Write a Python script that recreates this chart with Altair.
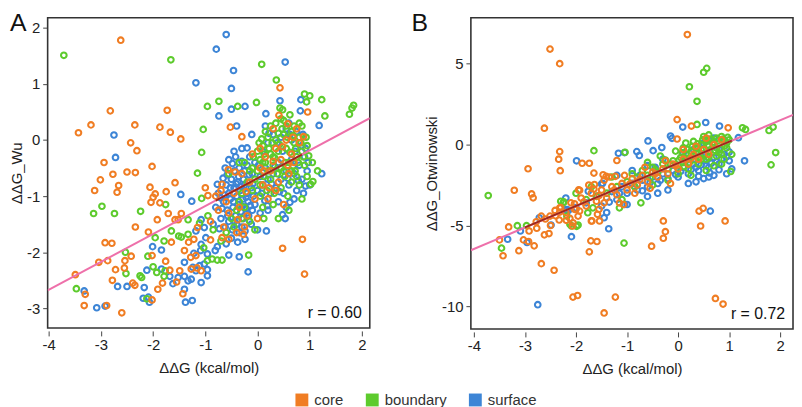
import altair as alt
import pandas as pd

# ---------------- Panel A : ddG vs ddG_Wu ----------------
A_CORE = [
    (-2.62, 1.78), (-2.82, 0.52), (-1.73, 0.53), (-3.19, 0.27), (-2.35, 0.27), (-3.43, 0.13),
    (-1.87, 0.23), (-1.67, 0.14), (-1.47, 0.02), (-2.43, -0.05), (-2.31, -0.19), (-2.94, -0.40),
    (-2.02, -0.47), (-2.50, -0.57), (-2.34, -0.58), (-2.77, -0.61), (0.43, 0.93), (0.96, 0.50),
    (0.41, 0.44), (-0.52, 0.23), (-0.30, 0.06), (-0.56, -0.53), (-0.43, -0.57), (0.88, 0.06),
    (0.58, 0.29), (-0.68, -0.79), (-0.95, -0.99),
    (-3.01, -0.71), (-3.12, -0.90), (-2.66, -0.81), (-2.69, -0.93), (-2.06, -0.84), (-1.58, -0.76),
    (-1.96, -0.96), (-2.00, -1.02), (-1.75, -0.92), (-2.04, -1.11), (-1.87, -1.12), (-1.92, -1.42),
    (-1.71, -1.31), (-1.58, -1.42), (-1.52, -1.42), (-1.46, -1.31), (-2.34, -1.55), (-2.09, -1.64),
    (-2.92, -1.83), (-2.79, -1.84), (-1.65, -1.82), (-2.42, -2.07), (-2.54, -2.15), (-3.04, -2.18),
    (-2.87, -2.15), (-2.02, -2.06), (-3.49, -2.40), (-2.72, -2.31), (-2.55, -2.28), (-2.78, -2.50),
    (-1.76, -2.16), (-1.68, -2.32), (-1.49, -2.33), (-2.39, -2.55), (-2.35, -2.59), (-1.91, -2.66),
    (-1.82, -2.55), (-3.32, -2.95), (-2.89, -2.95), (-2.60, -3.08), (-2.02, -2.85), (-1.43, -2.74),
    (-1.32, -1.82), (-1.22, -1.77), (-1.28, -2.09), (-1.18, -2.06), (-1.27, -2.30), (-1.16, -2.28),
    (-1.55, -2.53), (-1.15, -1.56), (-1.40, -1.97), (-1.08, -2.33), (-3.30, -2.75),
    (0.86, -1.77), (0.48, -1.93), (0.90, -2.39), (-0.90, -1.78), (-0.68, -1.74), (-0.55, -1.77),
    (-0.27, -1.68),
    (-0.80, -1.00), (-0.70, -0.90), (-0.60, -1.10), (-0.55, -1.30), (-0.45, -0.95), (-0.35, -1.20),
    (-0.25, -1.55), (-0.15, -0.75), (-0.05, -1.05), (0.05, -0.50), (0.15, -0.30), (0.25, -0.55),
    (0.35, -0.15), (0.45, -0.35), (0.55, 0.00), (0.65, -0.25), (0.75, 0.20), (0.30, 0.20),
    (0.10, -0.80), (0.40, -0.75), (-0.20, -1.35), (-0.10, -0.25), (0.20, -1.05), (-0.65, -1.55),
    (-0.40, -1.65), (0.60, -0.60), (0.80, -0.05), (0.00, -1.40), (-0.90, -1.45), (-0.75, -1.25),
    (-1.00, -0.85), (0.50, -1.15), (0.35, -0.90), (-0.30, -0.60),
    (0.12, -0.55), (0.30, -0.38), (0.48, -0.12), (0.68, 0.05), (-0.22, -0.92), (-0.38, -1.42),
    (0.05, -0.15), (0.58, -0.45), (0.70, -0.40), (0.22, -0.85),
]
A_BOUNDARY = [
    (-3.71, 1.51), (-1.66, 1.43), (-0.96, 0.60), (-1.04, 0.19), (-1.07, -0.22), (-1.15, -0.59),
    (0.08, 1.35), (0.36, 1.07), (-0.74, 0.69), (-0.38, 0.60), (-0.02, 0.67), (0.43, 0.57),
    (0.48, 0.54), (0.90, 0.82), (1.00, 0.79), (0.94, 0.68), (1.23, 0.72), (1.29, 0.43),
    (1.84, 0.62), (1.81, 0.57), (1.76, 0.46), (1.02, -0.79), (1.06, -0.74), (0.12, -1.40),
    (-0.17, -2.05), (-0.87, -2.12), (-0.77, -2.14), (-0.68, -2.14), (1.15, -0.55),
    (-2.98, -1.18), (-3.14, -1.31), (-2.74, -1.31), (-2.24, -1.27), (-1.76, -1.15), (-1.07, -1.04),
    (-1.65, -1.62), (-1.96, -1.74), (-1.79, -1.80), (-2.53, -2.00), (-2.10, -2.07), (-2.52, -2.38),
    (-2.00, -2.26), (-1.79, -2.43), (-2.25, -2.42), (-2.22, -2.45), (-3.47, -2.65), (-2.12, -2.83),
    (-1.51, -1.71), (-1.46, -1.73), (-1.33, -1.68), (-1.77, -2.33), (-1.93, -2.36), (-1.33, -1.42),
    (-1.11, -1.48), (-1.03, -1.92), (-0.96, -2.15),
    (0.00, -0.20), (0.05, -0.35), (0.10, -0.10), (0.15, -0.40), (0.20, 0.05), (0.25, -0.25),
    (0.30, -0.45), (0.35, 0.00), (0.40, -0.20), (0.45, -0.50), (0.50, 0.10), (0.55, -0.15),
    (0.60, -0.40), (0.65, 0.15), (0.70, -0.05), (0.75, -0.30), (0.80, 0.05), (0.85, -0.20),
    (0.90, -0.45), (0.95, -0.10), (-0.10, -0.50), (-0.05, -0.70), (0.00, -0.55), (0.05, -0.80),
    (0.12, -0.65), (0.18, -0.90), (0.25, -0.70), (0.32, -0.95), (0.38, -0.60), (0.45, -0.85),
    (0.52, -0.65), (0.58, -1.00), (0.65, -0.75), (0.72, -0.55), (0.80, -0.80), (-0.20, -0.75),
    (-0.30, -0.95), (-0.40, -1.25), (-0.50, -1.40), (-0.60, -1.65), (-0.70, -1.80), (-0.25, -1.20),
    (-0.15, -1.45), (-0.05, -1.60), (0.10, -1.20), (0.25, 0.25), (0.35, 0.30), (0.50, 0.35),
    (0.15, 0.15), (0.70, 0.25), (0.95, -0.65), (1.05, -0.40), (0.40, -1.40), (-0.85, -1.60),
    (-0.95, -1.35), (-0.55, -0.60), (0.30, -1.15), (0.60, -1.25), (0.85, -1.05), (-0.35, -0.40),
    (0.03, -0.05), (0.08, 0.02), (0.13, -0.25), (0.22, -0.15), (0.28, -0.05), (0.33, -0.32),
    (0.42, -0.08), (0.47, 0.20), (0.53, -0.40), (0.57, 0.05), (0.62, -0.22), (0.68, 0.08),
    (0.73, -0.15), (0.78, -0.40), (0.83, -0.05), (0.88, -0.30), (0.93, 0.05), (0.98, -0.28),
    (0.40, 0.12), (0.20, -0.55), (0.30, -0.30), (0.50, -0.55), (0.65, -0.55), (0.75, -0.65),
    (0.10, -0.40), (-0.08, -0.30), (-0.15, -0.55), (-0.25, -0.40), (0.55, 0.25), (0.80, 0.30),
    (0.45, 0.38), (0.62, 0.45), (0.85, 0.25), (0.05, -1.00), (-0.10, -0.90), (-0.35, -1.10),
    (-0.45, -1.55), (-0.30, -1.40),
]
A_SURFACE = [
    (-1.18, 1.02), (-2.75, 0.09), (-2.72, -0.31), (-0.60, 1.88), (-0.79, 1.62), (0.53, 1.39),
    (-0.46, 1.24), (-0.50, 0.92), (-0.24, 0.60), (-0.50, 0.55), (0.43, 0.70), (0.83, 0.72),
    (0.82, 0.52), (0.16, 0.47), (-0.74, 0.43), (1.18, 0.26), (-0.40, 0.25), (-0.11, 0.10),
    (-0.20, -0.14), (1.23, -0.60), (-0.18, -2.35), (0.00, -1.60), (0.17, -1.62), (0.48, -1.33),
    (0.53, -1.40), (0.19, -1.17), (0.62, -1.11), (-0.35, -2.08), (-0.55, -2.05), (-0.81, -1.97),
    (-0.77, -1.90), (-0.96, -2.31), (-0.24, -1.77), (-0.77, -0.79), (-0.71, -1.03),
    (-1.47, -0.97), (-1.26, -1.09), (-2.01, -1.90), (-1.84, -1.96), (-2.12, -2.32), (-1.84, -2.30),
    (-1.68, -2.43), (-2.68, -2.61), (-2.50, -2.61), (-2.17, -2.63), (-3.32, -2.69), (-3.08, -2.99),
    (-2.92, -2.96), (-2.19, -2.82), (-2.09, -2.80), (-2.07, -2.89), (-1.40, -2.66), (-1.38, -2.89),
    (-1.25, -2.86), (-1.22, -2.02), (-1.09, -1.97), (-1.40, -2.18), (-1.24, -2.27), (-1.11, -2.24),
    (-1.52, -2.45), (-1.40, -2.43), (-1.27, -2.48), (-1.62, -2.56), (-1.08, -1.42), (-1.02, -1.56),
    (-1.18, -1.62), (-0.99, -1.74), (-1.08, -1.86), (-0.96, -2.03), (-1.02, -2.21), (-1.18, -2.33),
    (-0.96, -2.42), (-1.33, -2.51), (-1.08, -2.54),
    (-0.55, -0.35), (-0.48, -0.42), (-0.42, -0.30), (-0.35, -0.50), (-0.30, -0.38), (-0.25, -0.55),
    (-0.20, -0.45), (-0.15, -0.30), (-0.10, -0.60), (-0.05, -0.40), (-0.60, -0.80), (-0.55, -0.95),
    (-0.50, -0.70), (-0.45, -0.85), (-0.40, -1.00), (-0.38, -0.75), (-0.33, -0.90), (-0.28, -1.05),
    (-0.25, -0.80), (-0.20, -0.95), (-0.18, -1.10), (-0.12, -0.85), (-0.08, -1.00), (-0.05, -1.15),
    (0.00, -0.90), (-0.65, -1.10), (-0.58, -1.25), (-0.52, -1.05), (-0.47, -1.20), (-0.42, -1.35),
    (-0.37, -1.15), (-0.32, -1.28), (-0.27, -1.40), (-0.22, -1.22), (-0.17, -1.35), (-0.12, -1.50),
    (-0.70, -1.40), (-0.62, -1.55), (-0.55, -1.45), (-0.48, -1.60), (-0.40, -1.50), (-0.35, -1.65),
    (-0.75, -0.95), (-0.80, -1.20), (-0.85, -1.50), (0.05, -0.65), (0.10, -0.80), (0.15, -0.50),
    (0.20, -0.70), (0.25, -0.95), (0.30, -0.60), (0.35, -0.85), (0.40, -0.40), (0.45, -0.70),
    (0.50, -0.95), (0.55, -0.55), (0.60, -0.80), (0.65, -0.35), (0.70, -0.60), (0.75, -0.90),
    (0.80, -0.45), (0.85, -0.70), (0.90, -0.30), (0.95, -0.55), (0.10, -0.20), (0.20, -0.05),
    (0.30, 0.10), (0.45, 0.05), (0.55, 0.20), (0.65, 0.00), (0.75, 0.15), (0.85, -0.10),
    (0.15, 0.25), (0.60, 0.30), (0.40, -1.10), (0.55, -1.20), (0.70, -1.05), (0.20, -1.25),
    (-0.30, -0.15), (-0.45, -0.20), (0.88, -0.95), (1.00, -0.80), (0.05, -1.30), (-0.10, -1.25),
    (-0.62, -0.50), (-0.58, -0.62), (-0.44, -0.55), (-0.36, -0.65), (-0.27, -0.70), (-0.16, -0.62),
    (-0.09, -0.78), (-0.66, -0.68), (-0.52, -0.85), (-0.41, -0.78), (-0.31, -0.83), (-0.22, -1.02),
    (-0.14, -1.17), (-0.63, -0.98), (-0.46, -1.10), (-0.29, -1.18), (-0.20, -1.30), (-0.57, -1.35),
    (-0.44, -1.45), (-0.30, -1.55), (-0.24, -1.62), (-0.68, -1.22), (-0.73, -1.58), (-0.50, -1.75),
    (-0.60, -1.85), (-0.38, -1.82), (0.02, -0.45), (0.08, -0.95), (0.14, -1.08), (0.27, -0.78),
    (0.33, -0.48), (0.42, -0.92), (0.58, -0.68), (0.68, -0.47), (0.78, -0.72), (0.92, -0.82),
    (0.97, -0.40), (0.38, -0.05), (0.22, 0.12), (0.48, -0.20), (0.62, 0.10), (0.72, -0.20),
    (0.87, 0.10), (0.92, -0.15),
]
A_FIT_X = [-4.02, 2.15]
A_FIT_Y = [-2.68, 0.39]
A_DARK_X = [-0.80, 0.85]
A_DARK_Y = [-1.08, -0.26]

# ---------------- Panel B : ddG vs ddG_Otwinowski ----------------
B_CORE = [
    (-2.51, 5.91), (-2.32, 5.01), (0.18, 6.81), (-2.62, 1.02), (-0.02, 1.55), (0.26, 1.15),
    (0.98, 1.04), (-1.88, -1.15), (-1.74, -1.15), (-2.32, -0.43), (-2.31, -1.61), (-2.94, -1.49),
    (-3.21, -2.82), (-2.87, -3.05), (-2.84, -3.29), (-0.02, 0.35), (-1.20, -0.98), (-1.65, -1.76),
    (-1.47, -1.86), (-1.23, -1.96), (-2.34, -0.90), (-1.41, -1.96), (-1.64, -2.47), (-1.93, -2.82),
    (-2.32, -3.91), (-2.41, -4.07), (-2.03, -3.66), (-2.03, -4.00), (-1.93, -4.11), (-1.96, -4.42),
    (-2.12, -4.56), (-2.19, -4.68), (-2.06, -4.83), (-1.69, -4.72), (-1.54, -4.72), (-1.58, -4.31),
    (-1.59, -5.99), (-1.74, -6.63), (-2.43, -7.77), (-2.68, -7.36), (-2.06, -9.43), (-1.97, -9.33),
    (-1.23, -9.43), (-1.45, -10.41), (-3.12, -6.56), (-3.43, -6.87), (-3.50, -5.89), (-3.32, -5.09),
    (-2.92, -5.34), (-3.03, -5.89), (-2.93, -5.99), (-2.82, -6.26), (-2.62, -5.58), (-2.53, -5.50),
    (-2.78, -4.77), (-2.77, -5.17), (-2.68, -4.42), (-2.51, -4.42), (-2.32, -4.17), (-2.33, -4.66),
    (-2.07, -5.03), (-1.71, -5.95), (-1.70, -4.72), (-0.29, -4.72), (-0.25, -5.38), (-0.29, -5.79),
    (-0.52, -6.28), (0.41, -4.11), (0.49, -3.94), (0.44, -5.03), (0.92, -4.72), (0.73, -9.51),
    (0.88, -9.86), (-1.07, -3.70),
    (-2.20, -4.20), (-2.10, -3.60), (-2.00, -4.00), (-1.90, -3.30), (-1.80, -3.80), (-1.70, -3.00),
    (-1.60, -3.50), (-1.50, -2.80), (-1.40, -3.30), (-1.30, -2.60), (-1.20, -3.10), (-1.10, -2.40),
    (-1.00, -2.80), (-0.90, -2.10), (-0.80, -2.50), (-0.70, -1.90), (-0.60, -2.30), (-0.50, -1.70),
    (-0.40, -2.00), (-0.30, -1.50), (-0.20, -1.80), (-0.10, -1.20), (0.00, -1.50), (0.10, -0.90),
    (0.20, -1.20), (0.30, -0.60), (0.40, -0.90), (0.50, -0.30), (0.60, -0.60), (0.70, 0.00),
    (-1.75, -2.50), (-1.45, -2.20), (-1.15, -3.60), (-0.85, -3.00), (-0.55, -2.70), (-1.95, -2.80),
    (-2.40, -4.40), (-2.60, -4.60), (-2.30, -3.90), (-1.55, -4.00), (0.35, -0.10), (0.85, 0.30),
    (-0.25, -1.00), (-0.65, -1.40), (-1.35, -2.00), (0.10, -0.30), (-1.05, -1.90), (-0.15, -2.40),
    (0.55, 0.40), (-2.50, -5.00),
    (-0.75, -2.15), (-0.95, -2.45), (-1.25, -2.80), (-1.55, -3.15), (-1.85, -3.55), (-0.45, -1.80),
    (-0.05, -1.30), (0.25, -0.85), (-1.65, -2.75), (-1.45, -3.60),
]
B_BOUNDARY = [
    (0.56, 4.72), (0.50, 4.48), (0.22, 3.58), (0.37, 2.68), (0.37, 1.25), (1.26, 1.04),
    (1.32, 0.94), (1.78, 0.88), (1.86, 1.09), (1.91, -0.49), (1.82, -1.25), (1.03, -1.66),
    (-1.65, -0.37), (-3.72, -3.15), (-1.04, -0.47), (-2.24, -3.54), (-2.09, -5.03), (-1.96, -4.97),
    (-1.67, -3.91), (-1.77, -4.21), (-1.06, -6.09), (-3.46, -6.40), (-3.15, -5.01), (-2.97, -5.01),
    (-2.25, -3.59), (-2.18, -4.42), (-1.99, -5.05), (-2.12, -4.93), (-1.15, -3.91), (-0.73, -3.60),
    (-1.00, -2.30), (-0.90, -1.80), (-0.80, -2.00), (-0.70, -1.60), (-0.60, -1.90), (-0.50, -1.40),
    (-0.40, -1.70), (-0.30, -1.20), (-0.20, -1.50), (-0.10, -1.00), (0.00, -1.30), (0.05, -0.80),
    (0.10, -1.10), (0.15, -0.60), (0.20, -0.90), (0.25, -0.40), (0.30, -0.70), (0.35, -0.20),
    (0.40, -0.50), (0.45, 0.00), (0.50, -0.30), (0.55, 0.20), (0.60, -0.10), (0.65, 0.30),
    (0.70, 0.00), (0.75, 0.40), (0.80, 0.10), (0.85, 0.50), (0.90, 0.20), (0.95, -0.20),
    (1.00, 0.30), (0.30, 0.20), (0.50, 0.50), (0.10, -0.20), (0.60, 0.60), (0.20, -1.50),
    (0.40, -1.20), (0.60, -0.80), (0.80, -0.50), (0.00, -1.80), (-0.20, -2.20), (-1.20, -2.60),
    (-1.40, -3.00), (-1.60, -3.20), (-1.80, -3.40), (-1.10, -3.40), (0.70, -1.30), (0.90, -0.90),
    (-0.60, -1.10), (-0.35, -0.70), (0.15, 0.10), (0.75, -0.20), (0.45, -0.90), (-0.05, -0.40),
    (0.85, -1.20), (1.05, -0.60), (-1.30, -2.00), (-0.85, -2.60), (0.55, -1.60), (0.25, -1.90),
    (-0.50, -2.50), (-2.00, -3.00), (-2.30, -3.50), (-1.70, -2.60),
    (0.02, -0.95), (0.08, -0.50), (0.12, -1.35), (0.18, -0.30), (0.22, -1.10), (0.28, -0.10),
    (0.32, -0.95), (0.38, 0.05), (0.42, -0.75), (0.48, 0.30), (0.52, -0.55), (0.58, 0.00),
    (0.62, -0.40), (0.68, 0.15), (0.72, -0.35), (0.78, 0.25), (0.82, -0.25), (0.88, 0.35),
    (0.92, -0.05), (0.97, 0.45), (0.62, 0.35), (0.45, -0.30), (0.35, -0.55), (0.55, -0.90),
    (0.75, -0.70), (0.15, -0.85), (-0.15, -1.20), (-0.25, -0.95), (-0.45, -1.55), (-0.55, -2.05),
    (0.85, -0.60), (0.95, 0.10),
]
B_SURFACE = [
    (0.54, 1.37), (0.09, 1.09), (0.81, 1.15), (1.30, -1.00), (1.18, 0.43), (-1.99, -1.00),
    (-1.17, -0.53), (-0.81, -0.43), (-0.76, -0.67), (-0.59, 0.23), (-0.49, -0.37), (-0.15, 0.53),
    (-0.12, 0.39), (-1.50, -2.43), (-1.05, -0.49), (-0.32, -0.18), (-1.76, -2.88), (-1.48, -2.39),
    (-2.18, -4.01), (-2.09, -5.69), (-1.45, -4.52), (-1.36, -5.20), (-2.75, -9.90), (-3.34, -5.85),
    (-3.09, -5.34), (-2.72, -4.52), (-2.49, -4.97), (-2.21, -4.03), (0.63, -4.11), (-2.96, -6.05),
    (-2.15, -4.07), (-1.05, -3.70),
    (-1.80, -3.60), (-1.60, -3.20), (-1.50, -3.80), (-1.30, -2.90), (-1.20, -3.40), (-1.10, -2.60),
    (-1.00, -3.00), (-0.90, -2.40), (-0.80, -2.80), (-0.70, -2.20), (-0.60, -2.60), (-0.50, -2.00),
    (-0.40, -2.40), (-0.30, -1.80), (-0.20, -2.10), (-0.10, -1.60), (0.00, -2.00), (0.10, -1.40),
    (0.20, -1.80), (0.30, -1.20), (0.40, -1.60), (0.50, -1.00), (0.60, -1.40), (0.70, -0.80),
    (0.80, -1.20), (0.90, -0.60), (1.00, -1.00), (0.50, -2.10), (0.60, -2.00), (0.70, -1.90),
    (0.20, -2.40), (-0.20, -2.80), (-0.60, -3.20), (-1.00, -3.70), (0.30, -0.30), (0.50, 0.10),
    (0.70, 0.40), (0.90, 0.30), (0.10, -0.50), (-0.30, -0.90), (-0.60, -1.30), (-0.90, -1.60),
    (-1.20, -1.90), (1.05, -1.50), (0.95, -1.80), (0.35, -2.30), (-0.40, -3.00), (-2.00, -3.90),
    (-2.20, -3.30), (-1.40, -4.20), (0.80, -0.30), (0.15, -1.00), (-0.45, -1.40), (-0.75, -1.90),
    (0.45, -0.60),
    (-0.05, -1.85), (0.05, -1.65), (0.25, -1.55), (0.35, -1.40), (0.45, -1.25), (0.55, -1.30),
    (0.65, -1.15), (0.75, -1.05), (0.85, -0.90), (0.95, -0.75), (1.00, -0.45), (-0.35, -2.20),
    (-0.55, -2.35), (-0.85, -2.60), (-1.15, -3.00), (-1.35, -3.55), (0.40, -1.95), (0.62, -1.75),
    (0.80, -1.55), (-0.70, -2.85),
]
B_FIT_X = [-4.06, 2.25]
B_FIT_Y = [-6.53, 1.84]
B_DARK_X = [-3.00, 1.05]
B_DARK_Y = [-5.12, 0.25]

CLASSES = ["core", "boundary", "surface"]
COLORS = ["#F07D23", "#5DCB2D", "#3D85D6"]
FONT = "Liberation Sans"


def points_df(core, boundary, surface):
    parts = []
    for pts, cls in ((surface, "surface"), (boundary, "boundary"), (core, "core")):
        d = pd.DataFrame(pts, columns=["x", "y"])
        d["cls"] = cls
        parts.append(d)
    return pd.concat(parts, ignore_index=True)


def panel(df, xdom, ydom, yticks, ytitle, fit_x, fit_y, dark_x, dark_y, letter, letter_x,
          rtext, w, h, show_legend):
    xs = alt.Scale(domain=xdom, nice=False, zero=False)
    ys = alt.Scale(domain=ydom, nice=False, zero=False)
    xaxis = alt.Axis(values=[-4, -3, -2, -1, 0, 1, 2], title="ΔΔG (kcal/mol)", grid=False,
                     domain=False, offset=3, tickSize=5, labelPadding=2, titlePadding=8,
                     labelExpr="'' + datum.value")
    yaxis = alt.Axis(values=yticks, title=ytitle, grid=False, domain=False, offset=1,
                     tickSize=4, labelPadding=3, titlePadding=2,
                     labelExpr="'' + datum.value")
    legend = None
    if show_legend:
        legend = alt.Legend(
            title=None, orient="none", legendX=249, legendY=378, direction="horizontal",
            symbolType="square", symbolSize=42, symbolStrokeWidth=6.5, symbolOpacity=1,
            labelFontSize=15, labelFont=FONT, labelColor="#333333",
            columnPadding=12, labelOffset=5, padding=0)
    pts = alt.Chart(df).mark_point(filled=False, size=32, opacity=1).encode(
        x=alt.X("x:Q", scale=xs, axis=xaxis),
        y=alt.Y("y:Q", scale=ys, axis=yaxis),
        color=alt.Color("cls:N", scale=alt.Scale(domain=CLASSES, range=COLORS), legend=legend),
        strokeWidth=alt.value(2.1),
    )
    fit = alt.Chart(pd.DataFrame({"x": fit_x, "y": fit_y})).mark_line(
        color="#EE70AA", strokeWidth=2, clip=True).encode(x="x:Q", y="y:Q")
    dark = alt.Chart(pd.DataFrame({"x": dark_x, "y": dark_y})).mark_line(
        color="#9E2B17", strokeWidth=2, clip=True).encode(x="x:Q", y="y:Q")
    lab = alt.Chart(pd.DataFrame({"t": [letter]})).mark_text(
        align="left", baseline="top", fontSize=25, font=FONT, color="#111111").encode(
        x=alt.value(letter_x), y=alt.value(-7), text="t:N")
    rt = alt.Chart(pd.DataFrame({"t": [rtext]})).mark_text(
        align="right", baseline="alphabetic", fontSize=16, font=FONT, color="#111111").encode(
        x=alt.value(w - 8), y=alt.value(h - 10), text="t:N")
    return alt.layer(pts, fit, dark, lab, rt).properties(width=w, height=h)


dfA = points_df(A_CORE, A_BOUNDARY, A_SURFACE)
dfB = points_df(B_CORE, B_BOUNDARY, B_SURFACE)

pA = panel(dfA, [-4.02, 2.15], [-3.35, 2.18], [-3, -2, -1, 0, 1, 2], "ΔΔG_Wu",
           A_FIT_X, A_FIT_Y, A_DARK_X, A_DARK_Y, "A", -38, "r = 0.60", 325, 313, True)
pB = panel(dfB, [-4.06, 2.25], [-11.4, 7.85], [-10, -5, 0, 5], "ΔΔG_Otwinowski",
           B_FIT_X, B_FIT_Y, B_DARK_X, B_DARK_Y, "B", -60, "r = 0.72", 325, 314, False)

chart = alt.hconcat(pA, pB, spacing=40).properties(padding=0).configure_view(
    stroke="#333333", strokeWidth=1.6
).configure_axis(
    labelFont=FONT, titleFont=FONT, labelFontSize=15, titleFontSize=15,
    labelColor="#222222", titleColor="#222222", tickColor="#444444",
    titleFontWeight="normal", tickWidth=1,
)

chart.save("out.html", embed_options={"renderer": "svg", "actions": False})
